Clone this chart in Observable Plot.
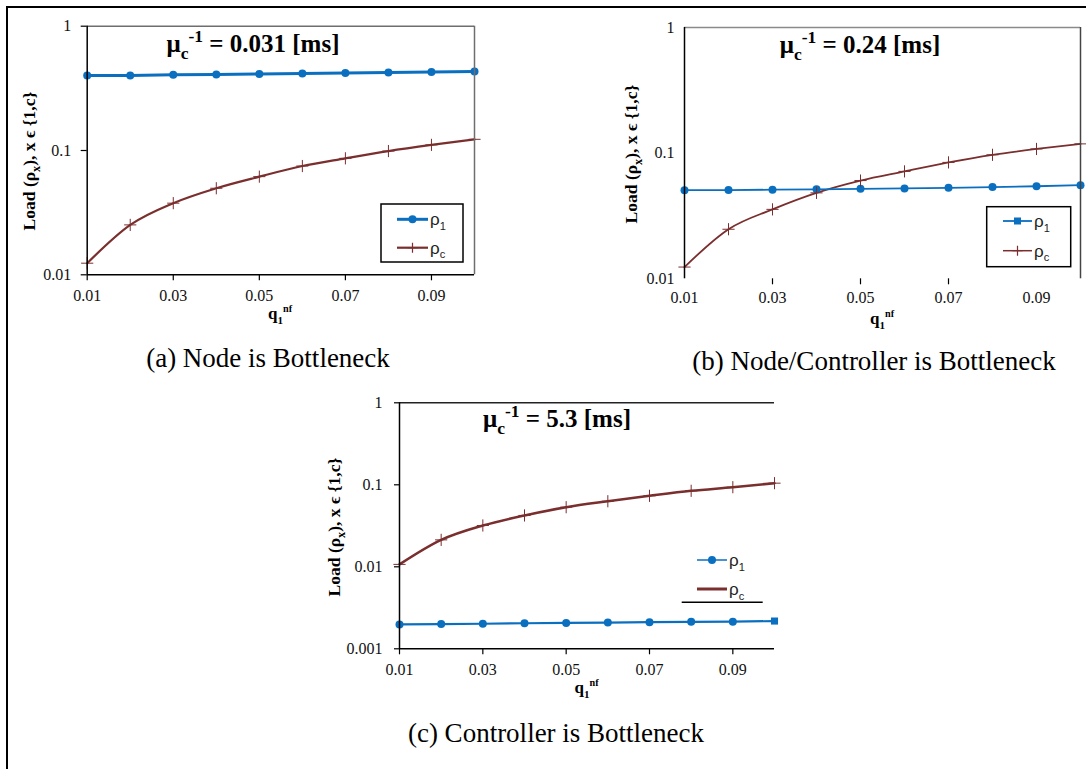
<!DOCTYPE html>
<html><head><meta charset="utf-8">
<script src="https://cdn.jsdelivr.net/npm/d3@7"></script>
<script src="https://cdn.jsdelivr.net/npm/@observablehq/plot@0.6"></script>
<style>
body{margin:0;background:#fff;}
#fig{position:relative;width:1086px;height:769px;overflow:hidden;background:#fff;}
#border{position:absolute;left:5.5px;top:5.5px;width:1200px;height:900px;border-top:2.3px solid #000;border-left:2.3px solid #000;}
.panel{position:absolute;}
#overlay{position:absolute;left:0;top:0;z-index:5;pointer-events:none;}
</style></head><body>
<div id="fig"><div id="border"></div></div>
<script>
// ---- data ----
const q = [0.01, 0.02, 0.03, 0.04, 0.05, 0.06, 0.07, 0.08, 0.09, 0.10];
const rho1A = [0.401, 0.402, 0.406, 0.409, 0.413, 0.417, 0.420, 0.424, 0.428, 0.433];
const rhoCA = [0.0124, 0.0252, 0.0377, 0.0497, 0.0616, 0.0750, 0.0865, 0.0990, 0.111, 0.123];
const rho1B = [0.0507, 0.0508, 0.0512, 0.0515, 0.0520, 0.0524, 0.0530, 0.0537, 0.0545, 0.0556];
const rhoCB = [0.0124, 0.0248, 0.0357, 0.0483, 0.0605, 0.0716, 0.0844, 0.0970, 0.108, 0.1185];
const rho1C = [0.00198, 0.00200, 0.00202, 0.00205, 0.00207, 0.00209, 0.00211, 0.00213, 0.00214, 0.00218];
const rhoCC = [0.0107, 0.0213, 0.0319, 0.0423, 0.0533, 0.0630, 0.0734, 0.0845, 0.0935, 0.1047];
const xTicks = [0.01, 0.03, 0.05, 0.07, 0.09];
const xTickLabels = ["0.01", "0.03", "0.05", "0.07", "0.09"];
const yTicksAB = [0.01, 0.1, 1];
const yTickLabelsAB = ["0.01", "0.1", "1"];
const yTicksC = [0.001, 0.01, 0.1, 1];
const yTickLabelsC = ["0.001", "0.01", "0.1", "1"];
const titles = ["0.031", "0.24", "5.3"];
const captions = ["(a) Node is Bottleneck", "(b) Node/Controller is Bottleneck", "(c) Controller is Bottleneck"];
const seriesNames = ["1", "c"];

const BLUE = "#0b6fc0", RED = "#7a2e2e";
const SERIF = "'Liberation Serif','Times New Roman',serif";
const SANS = "'Liberation Sans',Arial,sans-serif";
const fig = document.getElementById("fig");
const xMap = new Map(xTicks.map((v, i) => [v, xTickLabels[i]]));

function makePanel(cfg) {
  const data = q.map((x, i) => ({x, r1: cfg.r1[i], rc: cfg.rc[i], last: i === q.length - 1}));
  const yMap = new Map(cfg.yTicks.map((v, i) => [v, cfg.yLabels[i]]));
  const marks = [
    Plot.line(data, {x: "x", y: "rc", stroke: RED, strokeWidth: cfg.rcW, curve: "monotone-x"}),
    Plot.line(data, {x: "x", y: "r1", stroke: BLUE, strokeWidth: cfg.r1W}),
    Plot.dot(data, {x: "x", y: "r1", r: 4, fill: BLUE, symbol: d => (cfg.lastSquare && d.last) ? "square" : "circle"}),
    cfg.rcMarks ? Plot.dot(data, {x: "x", y: "rc", r: 4, symbol: "plus", stroke: RED, strokeWidth: 1}) : null,
    cfg.frameTop ? Plot.ruleY([cfg.yDomain[1]], {stroke: cfg.frameTop, strokeWidth: 1.5}) : null,
    cfg.frameRight ? Plot.ruleX([0.1], {stroke: cfg.frameRight, strokeWidth: 1.5}) : null,
    cfg.bottomLine ? Plot.ruleY([cfg.yDomain[0]], {stroke: "#000", strokeWidth: 1.5}) : null,
    Plot.ruleX([0.01], {stroke: "#000", strokeWidth: 1.5}),
    Plot.axisX(xTicks, {tickSize: cfg.xTickSize, tickPadding: cfg.xPad, tickFormat: d => xMap.get(d), fontSize: 16, stroke: "#000", strokeWidth: 1.2, fill: "#111", label: null}),
    cfg.extraXTicks ? Plot.axisX(cfg.extraXTicks, {tickSize: 6, tickPadding: 0, tickFormat: () => "", stroke: "#000", strokeWidth: 1.2, label: null}) : null,
    Plot.axisY(cfg.yTicks, {tickSize: cfg.yTickSize, tickPadding: cfg.yPad, tickFormat: d => yMap.get(d), fontSize: 16, stroke: "#000", strokeWidth: 1.2, fill: "#111", label: null})
  ].filter(Boolean);
  const svg = Plot.plot({
    width: cfg.w, height: cfg.h,
    marginLeft: cfg.ml, marginRight: cfg.mr, marginTop: cfg.mt, marginBottom: cfg.mb,
    style: {fontFamily: SERIF, fontSize: "16px", background: "none", overflow: "visible"},
    x: {type: "linear", domain: [0.01, 0.1]},
    y: {type: "log", domain: cfg.yDomain},
    marks
  });
  const div = document.createElement("div");
  div.className = "panel";
  div.style.left = cfg.left + "px";
  div.style.top = cfg.top + "px";
  div.appendChild(svg);
  fig.appendChild(div);
}

makePanel({left: 0, top: 0, w: 500, h: 330, ml: 86.7, mr: 26, mt: 25.7, mb: 55.7,
  r1: rho1A, rc: rhoCA, yDomain: [0.01, 1], yTicks: yTicksAB, yLabels: yTickLabelsAB,
  r1W: 3, rcW: 2.2, rcMarks: true, frameTop: "#6e6e6e", frameRight: "#6e6e6e", bottomLine: true,
  xTickSize: 6, xPad: 9, yTickSize: 6, yPad: 10});
makePanel({left: 560, top: 0, w: 526, h: 330, ml: 124, mr: 6, mt: 27, mb: 51.7,
  r1: rho1B, rc: rhoCB, yDomain: [0.01, 1], yTicks: yTicksAB, yLabels: yTickLabelsAB,
  r1W: 1.8, rcW: 1.8, rcMarks: true, frameTop: "#8a8a8a", frameRight: "#444", bottomLine: false,
  xTickSize: 0, xPad: 13.3, extraXTicks: [0.03, 0.05, 0.07], yTickSize: 0, yPad: 10});
makePanel({left: 300, top: 380, w: 500, h: 300, ml: 99, mr: 26, mt: 22.3, mb: 31.7,
  r1: rho1C, rc: rhoCC, yDomain: [0.001, 1], yTicks: yTicksC, yLabels: yTickLabelsC,
  r1W: 2.2, rcW: 2.5, rcMarks: true, frameTop: "#222", frameRight: null, bottomLine: true, lastSquare: true,
  xTickSize: 6, xPad: 9.3, yTickSize: 5, yPad: 12});

// ---- overlay texts & legends ----
const ov = d3.select(fig).append("svg").attr("id", "overlay").attr("width", 1086).attr("height", 769);

function rich(x, y, parts, o) {
  const t = ov.append("text").attr("x", x).attr("y", y)
    .attr("text-anchor", o.anchor || "middle").attr("font-size", o.size)
    .attr("font-weight", o.weight || "normal").attr("font-family", o.family || SERIF)
    .attr("fill", o.fill || "#000");
  if (o.rotate) t.attr("transform", `rotate(${o.rotate},${x},${y})`);
  let shift = 0;
  for (const p of parts) {
    const s = typeof p === "string" ? {t: p} : p;
    const target = s.sub ? o.size * 0.28 : s.sup ? -o.size * 0.42 : 0;
    const ts = t.append("tspan").text(s.t).attr("dy", target - shift);
    if (s.sub || s.sup) ts.attr("font-size", o.size * (s.scale || 0.62));
    shift = target;
  }
  return t;
}

// titles
const titlePos = [[253, 52], [860, 53], [557, 427]];
titles.forEach((v, i) => rich(titlePos[i][0], titlePos[i][1],
  ["μ", {t: "c", sub: true, scale: 0.7}, {t: "-1", sup: true, scale: 0.7}, ` = ${v} [ms]`],
  {size: 25, weight: "bold"}));

// captions
const capPos = [[268, 367], [874, 370], [556, 741.5]];
captions.forEach((c, i) => rich(capPos[i][0], capPos[i][1], [c], {size: 27}));

// y labels
const yLabPos = [[35, 161], [637, 154], [340, 527]];
yLabPos.forEach(([x, y]) => rich(x, y, ["Load (ρ", {t: "x", sub: true, scale: 0.7}, "), x ϵ {1,c}"],
  {size: 17.5, weight: "bold", rotate: -90}));

// x labels
const xLabPos = [[280, 319], [882, 324], [586.5, 693]];
xLabPos.forEach(([x, y]) => rich(x, y, ["q", {t: "1", sub: true, scale: 0.65}, {t: "nf", sup: true, scale: 0.6}],
  {size: 17, weight: "bold"}));

// legends
function legendEntry(x0, x1, y, color, w, marker, name) {
  ov.append("line").attr("x1", x0).attr("x2", x1).attr("y1", y).attr("y2", y).attr("stroke", color).attr("stroke-width", w);
  const cx = (x0 + x1) / 2;
  if (marker === "circle") ov.append("circle").attr("cx", cx).attr("cy", y).attr("r", 4).attr("fill", color);
  if (marker === "square") ov.append("rect").attr("x", cx - 3.5).attr("y", y - 3.5).attr("width", 7).attr("height", 7).attr("fill", color);
  if (marker === "plus") ov.append("path").attr("d", `M${cx},${y - 5}V${y + 5}M${cx - 5},${y}H${cx + 5}`).attr("stroke", color).attr("stroke-width", 1.2);
  rich(x1 + 2, y + 6, ["ρ", {t: name, sub: true, scale: 0.65}], {size: 17, anchor: "start", family: SANS, fill: "#222"});
}
// (a)
ov.append("rect").attr("x", 381).attr("y", 204).attr("width", 82).attr("height", 58).attr("fill", "#fff").attr("stroke", "#000").attr("stroke-width", 1.5);
legendEntry(397, 428, 219.3, BLUE, 3, "circle", seriesNames[0]);
legendEntry(397, 428, 247.7, RED, 2.2, "plus", seriesNames[1]);
// (b)
ov.append("rect").attr("x", 986.7).attr("y", 206.7).attr("width", 84).attr("height", 60).attr("fill", "#fff").attr("stroke", "#000").attr("stroke-width", 1.5);
legendEntry(1003, 1032, 221, BLUE, 1.8, "square", seriesNames[0]);
legendEntry(1003, 1032, 250.7, RED, 1.5, "plus", seriesNames[1]);
// (c)
legendEntry(697, 727, 560, BLUE, 1.5, "circle", seriesNames[0]);
legendEntry(697, 727, 589, RED, 3, null, seriesNames[1]);
ov.append("line").attr("x1", 681.7).attr("x2", 762.7).attr("y1", 602.3).attr("y2", 602.3).attr("stroke", "#000").attr("stroke-width", 1.5);
</script>
</body></html>
